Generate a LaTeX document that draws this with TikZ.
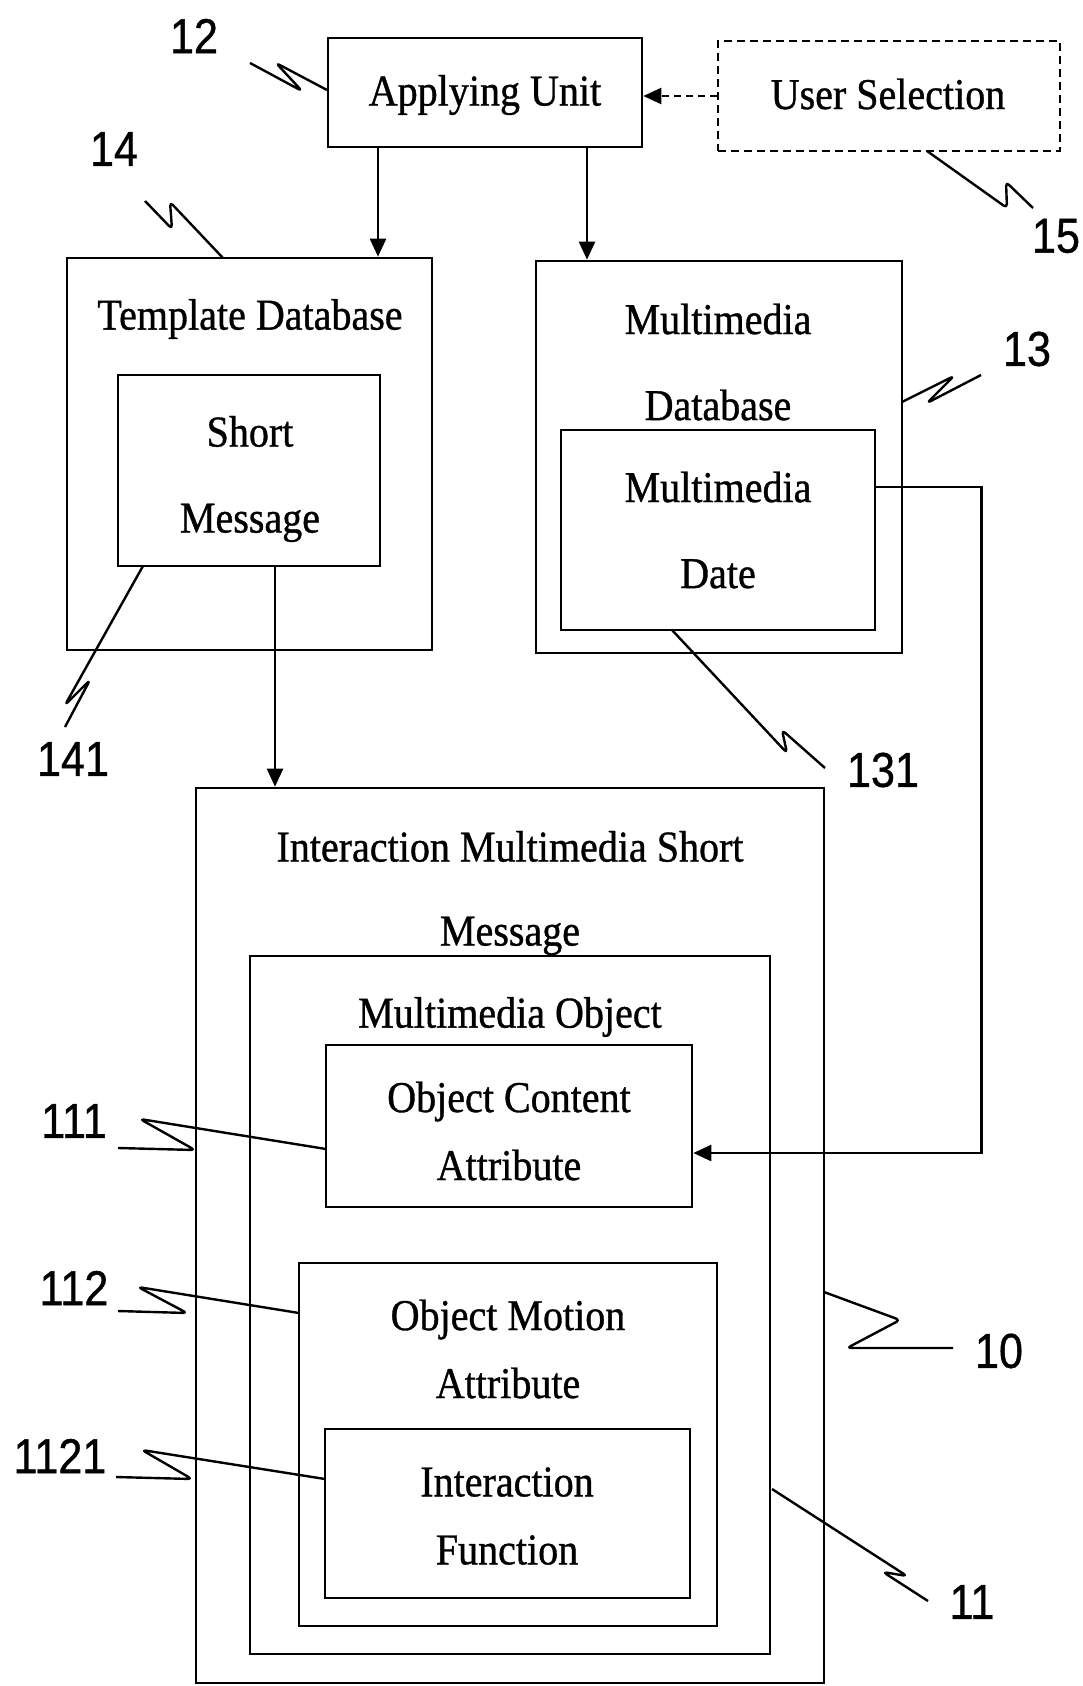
\documentclass[tikz,border=0pt]{standalone}
\usepackage{fontspec}
\setmainfont{Liberation Serif}[FakeStretch=0.91, UprightFeatures={FakeBold=0.8}]
\newfontfamily\numfont{Liberation Sans}[FakeStretch=0.88, UprightFeatures={FakeBold=0.8}]
\usetikzlibrary{shapes,arrows.meta,positioning,calc}

\tikzset{
  box/.style={draw, line width=2.6pt, inner sep=0pt},
  txt/.style={align=center, inner sep=0pt, font=\fontsize{44}{86}\selectfont},
  txtb/.style={align=center, inner sep=0pt, font=\fontsize{44}{68}\selectfont},
  refnum/.style={inner sep=0pt, font=\numfont\fontsize{49}{49}\selectfont},
  lead/.style={line width=2.4pt, line join=round, rounded corners=4pt},
  arr/.style={line width=2.4pt, -{Triangle[length=18pt,width=16pt]}}
}

\begin{document}
\begin{tikzpicture}[x=1pt,y=-1pt]
    \useasboundingbox (0,0) rectangle (1082,1686);

    % Top row
    \node[box, minimum width=314pt, minimum height=109pt] (apply) at (485,92.5) {};
    \node[txt] (applytxt) at (485,95) {Applying Unit};
    \node[box, dash pattern=on 8pt off 5pt, minimum width=342pt, minimum height=110pt] (usersel) at (889,96) {};
    \node[txt] (userseltxt) at (888,94) {User Selection};

    % Template database
    \node[box, minimum width=365pt, minimum height=392pt] (tmpldb) at (249.5,454) {};
    \node[txt] (tmpldbtxt) at (250,319) {Template Database};
    \node[box, minimum width=262pt, minimum height=191pt] (shortmsg) at (249,470.5) {};
    \node[txt] (shortmsgtxt) at (250,479) {Short\\Message};

    % Multimedia database
    \node[box, minimum width=366pt, minimum height=392pt] (mmdb) at (719,457) {};
    \node[txt] (mmdbtxt) at (718,362) {Multimedia\\Database};
    \node[box, minimum width=314pt, minimum height=200pt] (mmdata) at (718,530) {};
    \node[txt] (mmdatatxt) at (718,530) {Multimedia\\Date};

    % Interaction multimedia short message
    \node[box, minimum width=628pt, minimum height=895pt] (imsm) at (510,1235.5) {};
    \node[txt, font=\fontsize{44}{84}\selectfont] (imsmtxt) at (510,893) {Interaction Multimedia Short\\Message};
    \node[box, minimum width=520pt, minimum height=698pt] (mmobj) at (510,1305) {};
    \node[txt] (mmobjtxt) at (510,1017) {Multimedia Object};
    \node[box, minimum width=366pt, minimum height=162pt] (content) at (509,1126) {};
    \node[txtb] (contenttxt) at (509,1131) {Object Content\\Attribute};
    \node[box, minimum width=418pt, minimum height=363pt] (motion) at (508,1444.5) {};
    \node[txtb] (motiontxt) at (508,1349) {Object Motion\\Attribute};
    \node[box, minimum width=365pt, minimum height=169pt] (func) at (507.5,1513.5) {};
    \node[txtb] (functxt) at (507,1516) {Interaction\\Function};

    % Connectors
    \draw[arr, dash pattern=on 7pt off 5pt] (usersel.west) -- (usersel.west -| apply.east);
    \draw[arr] ([xshift=-107pt]apply.south) -- ([xshift=-107pt]apply.south |- tmpldb.north);
    \draw[arr] ([xshift=102pt]apply.south) -- ([xshift=102pt]apply.south |- mmdb.north);
    \draw[arr] ([xshift=26pt]shortmsg.south) -- ([xshift=26pt]shortmsg.south |- imsm.north);
    \draw[arr] ([yshift=43pt]mmdata.east) -- ++(105,0) |- ([yshift=-27pt]content.east);

    % Reference numerals
    \node[refnum] (n12) at (194,36) {12};
    \node[refnum] (n14) at (114,149) {14};
    \node[refnum] (n15) at (1056,236) {15};
    \node[refnum] (n13) at (1027,349) {13};
    \node[refnum] (n141) at (73,759) {141};
    \node[refnum] (n131) at (883,770) {131};
    \node[refnum] (n111) at (74,1121) {111};
    \node[refnum] (n112) at (74,1288) {112};
    \node[refnum] (n1121) at (60,1456) {1121};
    \node[refnum] (n10) at (999,1351) {10};
    \node[refnum] (n11) at (972,1602) {11};

    % Lead lines
    \draw[lead] (250,63) -- (302,91) -- (276,63) -- (327,90);
    \draw[lead] (145,201) -- (172,229) -- (170,202) -- (223,258);
    \draw[lead] (927,151) -- (1007,208) -- (1006,182) -- (1033,208);
    \draw[lead] (902,402) -- (954,376) -- (927,403) -- (981,375);
    \draw[lead] (65,727) -- (90,680) -- (65,705) -- (143,566);
    \draw[lead] (672,630) -- (787,753) -- (782,730) -- (825,768);
    \draw[lead] (118,1148) -- (195,1150) -- (140,1119) -- (326,1149);
    \draw[lead] (118,1311) -- (187,1313) -- (138,1287) -- (299,1313);
    \draw[lead] (116,1477) -- (192,1479) -- (142,1450) -- (325,1479);
    \draw[lead] (824,1292) -- (900,1320) -- (847,1348) -- (953,1348);
    \draw[lead] (772,1489) -- (907,1576) -- (883,1572) -- (928,1601);
\end{tikzpicture}
\end{document}
